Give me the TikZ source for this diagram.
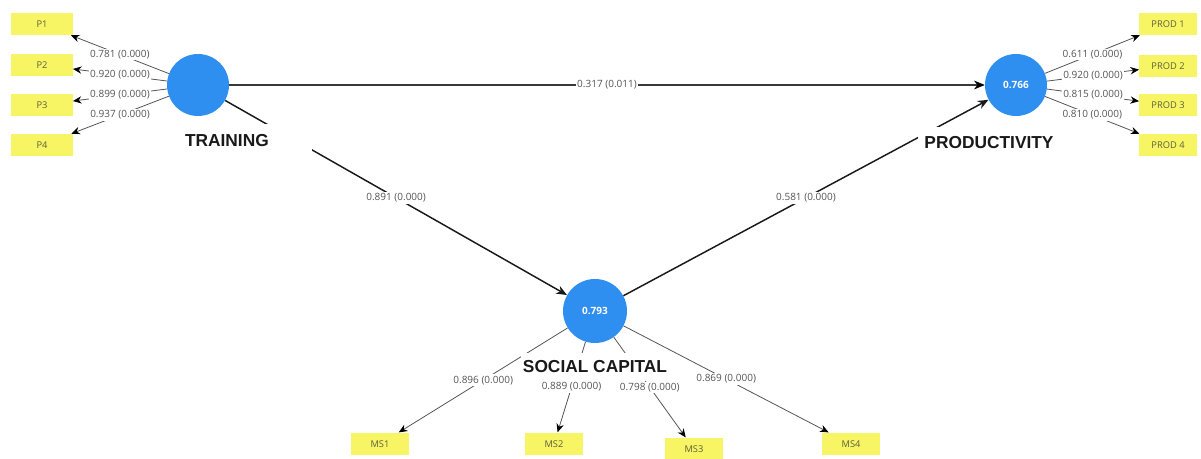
\documentclass[tikz,border=0pt]{standalone}
\usepackage{fontspec}
\setmainfont{Open Sans}
\newfontfamily\latfont{Liberation Sans}
\usetikzlibrary{arrows.meta}
\definecolor{lvblue}{RGB}{47,143,240}
\definecolor{indyellow}{RGB}{247,245,100}
\definecolor{loadgray}{RGB}{85,85,85}
\definecolor{indtext}{RGB}{95,95,60}
\tikzset{
  latent/.style={circle, fill=lvblue, draw=none, minimum size=46.5pt, inner sep=0pt,
    text=white, font=\fontsize{7.5}{9}\selectfont\bfseries},
  indic/.style={rectangle, fill=indyellow, draw=none, minimum width=46pt, minimum height=16.5pt,
    inner sep=0pt, text=indtext, font=\fontsize{7}{8}\selectfont},
  latname/.style={fill=white, inner ysep=0pt, font=\latfont\fontsize{13}{15}\selectfont\bfseries, text=black!90},
  loadline/.style={draw=loadgray, line width=0.6pt, -{Stealth[length=6.5pt,width=5.5pt,color=black,fill=black]}},
  pathline/.style={draw=black!90, line width=1.1pt, -{Stealth[length=8pt,width=6.5pt]}},
  coef/.style={fill=white, inner sep=1pt, text=loadgray, font=\fontsize{7.5}{9}\selectfont}
}
\begin{document}
\begin{tikzpicture}[x=0.75pt,y=-0.75pt]
\useasboundingbox (0,0) rectangle (1201,459);
% latent variables
\node[latent] (tr) at (198,85) {};
\node[latent] (pr) at (1016,85) {0.766};
\node[latent, minimum size=48pt] (sc) at (595,311) {0.793};
% indicators
\node[indic] (p1) at (42,24) {P1};
\node[indic] (p2) at (42,65) {P2};
\node[indic] (p3) at (42,105) {P3};
\node[indic] (p4) at (42,145) {P4};
\node[indic, minimum width=43pt] (pd1) at (1168,24) {PROD 1};
\node[indic, minimum width=43pt] (pd2) at (1168,66) {PROD 2};
\node[indic, minimum width=43pt] (pd3) at (1168,105) {PROD 3};
\node[indic, minimum width=43pt] (pd4) at (1168,145) {PROD 4};
\node[indic, minimum width=44pt, minimum height=17pt] (ms1) at (380,444) {MS1};
\node[indic, minimum width=44pt, minimum height=17pt] (ms2) at (554,444) {MS2};
\node[indic, minimum width=44pt, minimum height=17pt] (ms3) at (694,449) {MS3};
\node[indic, minimum width=44pt, minimum height=17pt] (ms4) at (851,444) {MS4};
% structural paths
\draw[draw=gray!45!black, line width=1.7pt, -{Stealth[length=8pt,width=6.5pt,color=black,fill=black,line width=0.4pt]}] (tr) -- node[coef] {0.317 (0.011)} (pr);
\draw[pathline] (tr) -- node[coef] {0.891 (0.000)} (sc);
\draw[pathline] (sc) -- node[coef] {0.581 (0.000)} (pr);
% outer loadings
\draw[loadline] (tr) -- node[coef] {0.781 (0.000)} (p1);
\draw[loadline] (tr) -- node[coef] {0.920 (0.000)} (p2);
\draw[loadline] (tr) -- node[coef] {0.899 (0.000)} (p3);
\draw[loadline] (tr) -- node[coef] {0.937 (0.000)} (p4);
\draw[loadline] (pr) -- node[coef] {0.611 (0.000)} (pd1);
\draw[loadline] (pr) -- node[coef] {0.920 (0.000)} (pd2);
\draw[loadline] (pr) -- node[coef] {0.815 (0.000)} (pd3);
\draw[loadline] (pr) -- node[coef] {0.810 (0.000)} (pd4);
\draw[loadline] (sc) -- node[coef] {0.896 (0.000)} (ms1);
\draw[loadline] (sc) -- node[coef] {0.889 (0.000)} (ms2);
\draw[loadline] (sc) -- node[coef] {0.798 (0.000)} (ms3);
\draw[loadline] (sc) -- node[coef] {0.869 (0.000)} (ms4);
% latent names
\node[latname, text width=90pt, align=left, inner xsep=5.25pt, minimum height=25.5pt] (trname) at (245,141) {TRAINING};
\node[latname, inner xsep=5pt, minimum height=23pt] (prname) at (989,142.5) {PRODUCTIVITY};
\node[latname, inner xsep=1.5pt, minimum height=21pt] (scname) at (595,367) {SOCIAL CAPITAL};
\end{tikzpicture}
\end{document}
